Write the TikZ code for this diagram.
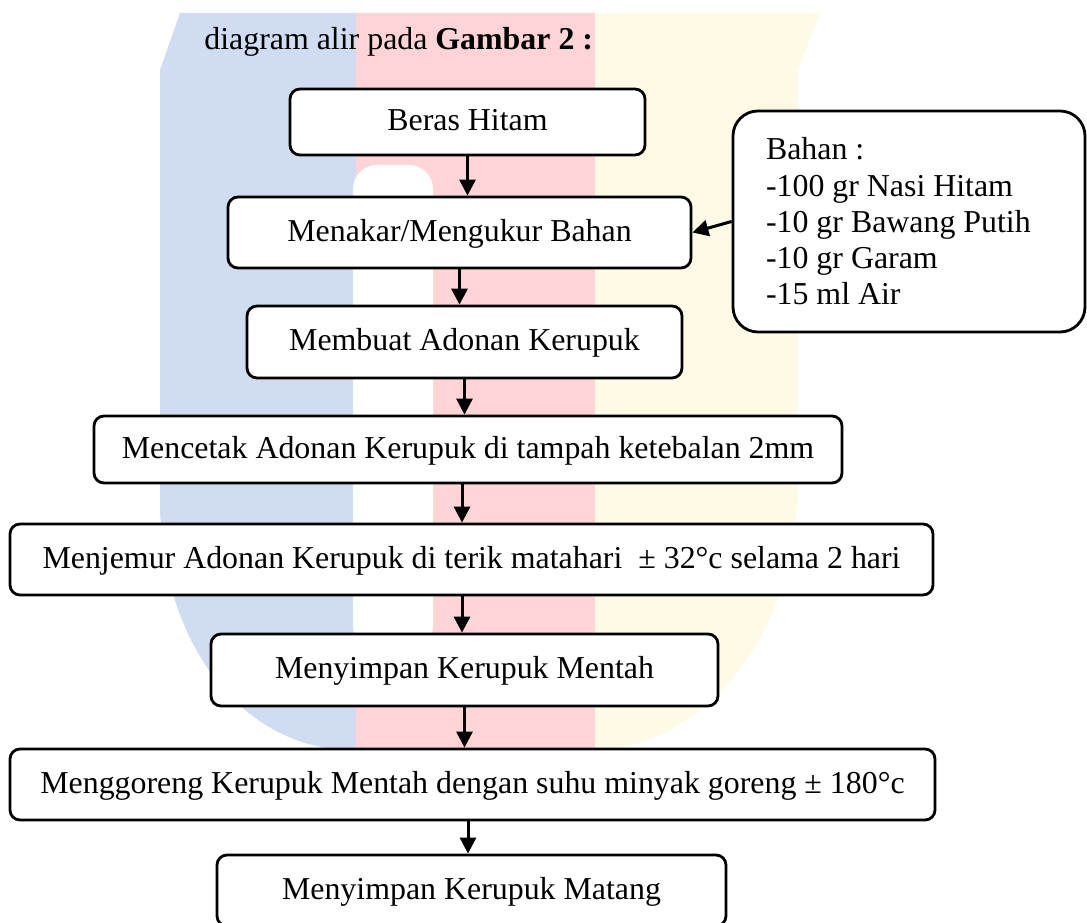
\documentclass[tikz,border=0pt]{standalone}
\usepackage{fontspec}
\setmainfont{Liberation Serif}
\usetikzlibrary{arrows.meta}
\definecolor{wmblue}{RGB}{208,220,242}
\definecolor{wmred}{RGB}{255,212,214}
\definecolor{wmyellow}{RGB}{255,250,230}
\begin{document}
\begin{tikzpicture}[>={Triangle[length=8bp,width=8bp]},line join=bevel,
  stepbox/.style={draw=black,line width=1.4bp,rounded corners=5bp,fill=white,inner sep=0pt,
    text height=0.9em,text depth=0pt,font=\fontsize{16}{19}\selectfont},
  flow/.style={black,line width=1.5bp,->}]
\useasboundingbox (0bp,0bp) rectangle (543.5bp,461.5bp);
%% watermark
\begin{scope}
\clip (90bp,455bp) -- (410bp,455bp) -- (399bp,426.5bp) -- (399bp,221.5bp)
  .. controls (399bp,141.5bp) and (350bp,87.5bp) .. (297.5bp,86.5bp) -- (175bp,86.5bp)
  .. controls (120bp,87.5bp) and (80bp,141.5bp) .. (80bp,211.5bp) -- (80bp,426.5bp) -- cycle;
\fill [wmblue] (0bp,0bp) rectangle (178bp,461.5bp);
\fill [wmred] (178bp,0bp) rectangle (297.5bp,461.5bp);
\fill [wmyellow] (297.5bp,0bp) rectangle (420bp,461.5bp);
\fill [white,rounded corners=12bp] (176.5bp,136.5bp) rectangle (216.5bp,379bp);
\end{scope}
%%
\node (node_title) at (102bp,436.5bp) [anchor=base west,inner sep=0pt,font=\fontsize{16}{19}\selectfont] {diagram alir pada \textbf{Gambar 2 :}};
  \node (node_0) at (233.75bp,400.5bp) [stepbox,minimum width=177.5bp,minimum height=33bp] {Beras Hitam};
  \node (node_1) at (229.75bp,345.25bp) [stepbox,minimum width=231.5bp,minimum height=35.5bp] {Menakar/Mengukur Bahan};
  \node (node_2) at (232.25bp,290.5bp) [stepbox,minimum width=217.5bp,minimum height=36bp] {Membuat Adonan Kerupuk};
  \node (node_3) at (234bp,236.75bp) [stepbox,minimum width=374bp,minimum height=33.5bp] {Mencetak Adonan Kerupuk di tampah ketebalan 2mm};
  \node (node_4) at (235.75bp,181.75bp) [stepbox,minimum width=461.5bp,minimum height=35.5bp] {Menjemur Adonan Kerupuk di terik matahari \ ± 32°c selama 2 hari};
  \node (node_5) at (232.25bp,126.5bp) [stepbox,minimum width=253.5bp,minimum height=36bp] {Menyimpan Kerupuk Mentah};
  \node (node_6) at (236.25bp,69.25bp) [stepbox,minimum width=462.5bp,minimum height=35.5bp] {Menggoreng Kerupuk Mentah dengan suhu minyak goreng ± 180°c};
  \node (node_7) at (235.75bp,16.25bp) [stepbox,minimum width=254.5bp,minimum height=35.5bp] {Menyimpan Kerupuk Matang};
  \node (node_8) at (454.5bp,350.75bp) [stepbox,rounded corners=12.5bp,minimum width=176bp,minimum height=110.5bp,
    inner xsep=16.5bp,text width=143bp,align=flush left,text height=,text depth=,font=\fontsize{16}{18.2}\selectfont]
    {Bahan :\\-100 gr Nasi Hitam\\-10 gr Bawang Putih\\-10 gr Garam\\-15 ml Air};
  \draw [flow] (node_0.south) -- (node_0.south |- node_1.north);
  \draw [flow] (node_1.south) -- (node_1.south |- node_2.north);
  \draw [flow] (node_2.south) -- (node_2.south |- node_3.north);
  \draw [flow] ([xshift=-3bp]node_3.south) -- ([xshift=-3bp]node_3.south |- node_4.north);
  \draw [flow] ([xshift=-4.75bp]node_4.south) -- ([xshift=-4.75bp]node_4.south |- node_5.north);
  \draw [flow] (node_5.south) -- (node_5.south |- node_6.north);
  \draw [flow] ([xshift=-2.25bp]node_6.south) -- ([xshift=-2.25bp]node_6.south |- node_7.north);
  \draw [flow] (node_8.west) -- (node_1.east);
%
\end{tikzpicture}
\end{document}
